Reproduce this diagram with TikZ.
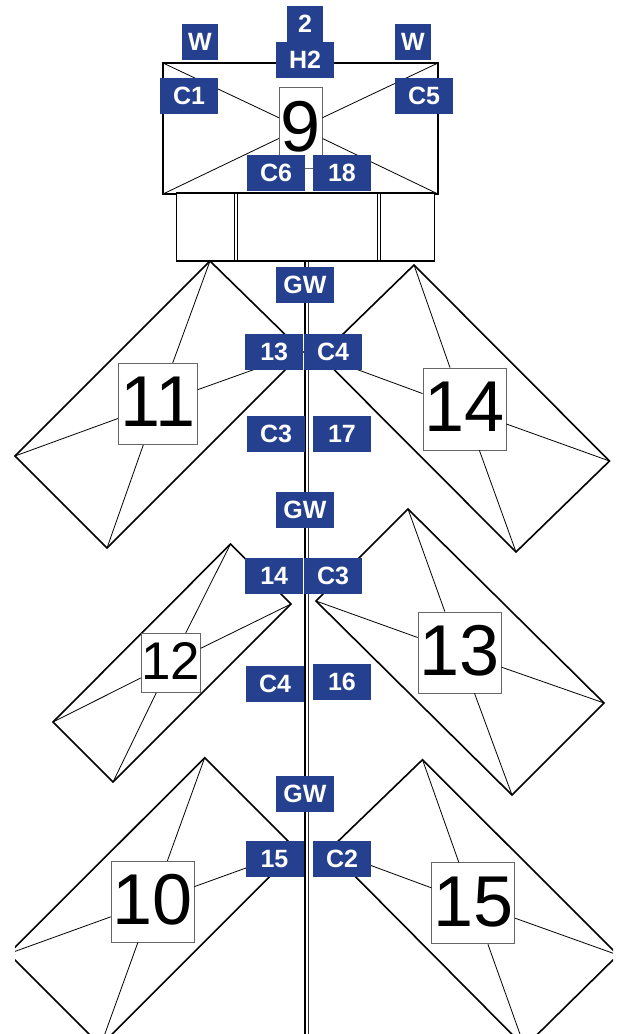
\documentclass[tikz,border=0pt]{standalone}
\usepackage{fontspec}
\setmainfont{Liberation Sans}
\usepackage{tikz}
\definecolor{tagblue}{HTML}{24408E}

\tikzset{
  panel/.style={draw=black, line width=1.6pt},
  spoke/.style={draw=black, line width=0.8pt},
  tag/.style={fill=tagblue, text=white, inner sep=0pt, minimum height=36pt, font=\fontsize{25}{25}\bfseries\selectfont},
  tagwide/.style={tag, minimum width=58pt},
  tagnarrow/.style={tag, minimum width=36pt},
  numbox/.style={draw=black!60, fill=white, line width=0.8pt, inner sep=0pt, text depth=4pt},
  numbig/.style={numbox, font=\fontsize{72}{72}\selectfont},
  numsmall/.style={numbox, font=\fontsize{53}{53}\selectfont},
}

\begin{document}
\begin{tikzpicture}[x=1pt, y=-1pt]
\useasboundingbox (0, 0) rectangle (618, 1034);

% upper pair
\coordinate (t11) at (210, 261);
\coordinate (r11) at (303, 352);
\coordinate (b11) at (107, 548);
\coordinate (l11) at (15, 456);
\draw[panel] (t11) -- (r11) -- (b11) -- (l11) -- cycle;
\node[numbig, minimum width=79pt, minimum height=81pt] (box11) at (157.7, 404) {11};
\draw[spoke] (t11) -- (box11);
\draw[spoke] (r11) -- (box11);
\draw[spoke] (b11) -- (box11);
\draw[spoke] (l11) -- (box11);

\coordinate (t14) at (414, 265);
\coordinate (r14) at (609.5, 461);
\coordinate (b14) at (516, 552);
\coordinate (l14) at (320.5, 356);
\draw[panel] (t14) -- (r14) -- (b14) -- (l14) -- cycle;
\node[numbig, minimum width=83pt, minimum height=82pt] (box14) at (464.5, 409) {14};
\draw[spoke] (t14) -- (box14);
\draw[spoke] (r14) -- (box14);
\draw[spoke] (b14) -- (box14);
\draw[spoke] (l14) -- (box14);

% middle pair
\coordinate (t12) at (230.5, 544);
\coordinate (r12) at (291, 604);
\coordinate (b12) at (113, 782);
\coordinate (l12) at (53, 722);
\draw[panel] (t12) -- (r12) -- (b12) -- (l12) -- cycle;
\node[numsmall, minimum width=59pt, minimum height=59pt] (box12) at (170.7, 663) {12};
\draw[spoke] (t12) -- (box12);
\draw[spoke] (r12) -- (box12);
\draw[spoke] (b12) -- (box12);
\draw[spoke] (l12) -- (box12);

\coordinate (t13) at (408, 509);
\coordinate (r13) at (604, 703);
\coordinate (b13) at (512, 795);
\coordinate (l13) at (316, 601);
\draw[panel] (t13) -- (r13) -- (b13) -- (l13) -- cycle;
\node[numbig, minimum width=83pt, minimum height=81pt] (box13) at (459.5, 652.5) {13};
\draw[spoke] (t13) -- (box13);
\draw[spoke] (r13) -- (box13);
\draw[spoke] (b13) -- (box13);
\draw[spoke] (l13) -- (box13);

% lower pair, cut by the sheet
\begin{scope}
\clip (15, 700) rectangle (613, 1034);
\coordinate (t10) at (204.7, 757.7);
\coordinate (r10) at (296.6, 849.7);
\coordinate (b10) at (100.6, 1045.7);
\coordinate (l10) at (8.6, 953.7);
\draw[panel] (t10) -- (r10) -- (b10) -- (l10) -- cycle;
\node[numbig, minimum width=83pt, minimum height=81pt] (box10) at (152.6, 901.7) {10};
\draw[spoke] (t10) -- (box10);
\draw[spoke] (r10) -- (box10);
\draw[spoke] (b10) -- (box10);
\draw[spoke] (l10) -- (box10);

\coordinate (t15) at (422.5, 759.7);
\coordinate (r15) at (618, 955);
\coordinate (b15) at (524.6, 1047);
\coordinate (l15) at (329, 850);
\draw[panel] (t15) -- (r15) -- (b15) -- (l15) -- cycle;
\node[numbig, minimum width=83pt, minimum height=81pt] (box15) at (473.3, 903.3) {15};
\draw[spoke] (t15) -- (box15);
\draw[spoke] (r15) -- (box15);
\draw[spoke] (b15) -- (box15);
\draw[spoke] (l15) -- (box15);
\end{scope}

% mast
\draw[black, line width=2pt] (304.5, 261) -- (304.5, 1034);
\draw[black!80, line width=1.4pt] (308.4, 261) -- (308.4, 1034);

% head
\coordinate (headnw) at (163, 63);
\coordinate (headne) at (438, 63);
\coordinate (headse) at (438, 194);
\coordinate (headsw) at (163, 194);
\draw[panel] (headnw) rectangle (headse);
\node[numbig, minimum width=43pt, minimum height=81pt] (box9) at (300.7, 128) {9};
\draw[spoke] (headnw) -- (box9);
\draw[spoke] (headne) -- (box9);
\draw[spoke] (headse) -- (box9);
\draw[spoke] (headsw) -- (box9);

% collar
\draw[fill=white, line width=1pt] (176, 193) rectangle (434, 261);
\draw[panel] (176, 193) -- (434, 193);
\draw[panel] (176, 261) -- (434, 261);
\draw[spoke] (234.5, 193) -- (234.5, 261);
\draw[spoke] (237.5, 193) -- (237.5, 261);
\draw[spoke] (377, 193) -- (377, 261);
\draw[spoke] (380.5, 193) -- (380.5, 261);

% labels
\node[tagnarrow] (topw1) at (200, 42) {W};
\node[tagnarrow] (top2) at (305, 24) {2};
\node[tagwide] (toph2) at (305, 60) {H2};
\node[tagnarrow] (topw2) at (413, 42) {W};
\node[tagwide] (topc1) at (189, 96) {C1};
\node[tagwide] (topc5) at (424, 96) {C5};
\node[tagwide] (topc6) at (276, 173) {C6};
\node[tagwide] (top18) at (342, 173) {18};

\node[tagwide] (gw1) at (305, 285) {GW};
\node[tagwide] (lbl13) at (274.2, 352) {13};
\node[tagwide] (lblc4) at (333, 352) {C4};
\node[tagwide] (lblc3) at (276, 434) {C3};
\node[tagwide] (lbl17) at (342, 434) {17};

\node[tagwide] (gw2) at (305, 510) {GW};
\node[tagwide] (lbl14) at (274.2, 576) {14};
\node[tagwide] (lblc3b) at (333, 576) {C3};
\node[tagwide] (lblc4b) at (275, 684) {C4};
\node[tagwide] (lbl16) at (342, 682) {16};

\node[tagwide] (gw3) at (305, 794) {GW};
\node[tagwide] (lbl15) at (274.5, 859) {15};
\node[tagwide] (lblc2) at (342, 859) {C2};
\end{tikzpicture}
\end{document}
